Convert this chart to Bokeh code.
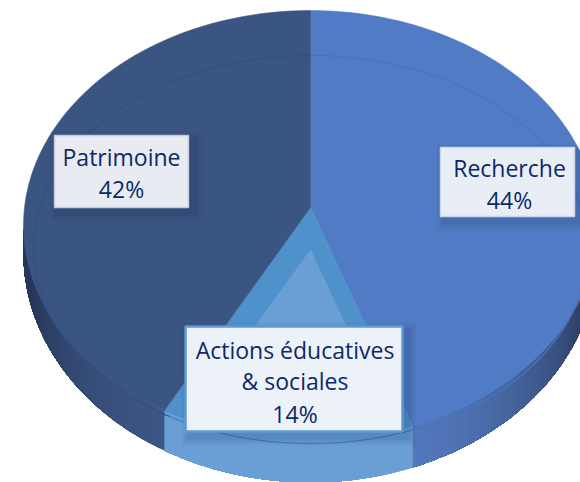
import numpy as np
from bokeh.plotting import figure
from bokeh.embed import file_html
from bokeh.resources import INLINE
from bokeh.core.properties import value

# --- data ---
categories = ["Recherche", "Actions éducatives\n& sociales", "Patrimoine"]
shares = [44.2, 14.3, 41.5]
share_labels = ["44%", "14%", "42%"]

# --- style / layout ---
top_colors = ["#517cc5", "#4f91cb", "#3b5582"]
ring_colors = ["#4a74bc", "#3f82bf", "#34507f"]
side_near = {0: "#5277bc", 2: "#3c5685"}
side_far = {0: "#2b3e60", 2: "#273858"}
highlight = "#6a9fd6"
TXT = "#0b2a66"
FONT = "Open Sans"
FS = "23px"
CX = 310
TOP = dict(cy=225, a=287, b=215)      # outer edge of the top face
BOT = dict(cy=253, a=287, b=229)      # lower silhouette
RING = dict(cy=249, a=277, b=194)     # inner bevel line
APEX_Y = 207
boxes = [  # left, right, top, bottom, fill, border, border width, text line centres, text x shift
    (440, 574, 147, 216, "#e9eef6", "#c9d6ec", 1.5, [167, 199], 2),
    (185, 402, 326, 431, "#edf2f9", "#5b9bd5", 2.5, [349, 380, 413], 1),
    (54, 188, 135, 207, "#e8ebf2", "#c5cddd", 1.5, [156, 188], 0),
]


def pt(e, deg):
    t = np.radians(deg)
    return CX + e["a"] * np.sin(t), e["cy"] - e["b"] * np.cos(t)


def hex2rgb(h):
    return np.array([int(h[i:i + 2], 16) for i in (1, 3, 5)], dtype=float)


def mix(a, b, f):
    c = hex2rgb(a) * (1 - f) + hex2rgb(b) * f
    return "#%02x%02x%02x" % tuple(int(round(v)) for v in c)


edges = np.concatenate([[0], np.cumsum(shares)]) / sum(shares) * 360

p = figure(width=580, height=482, x_range=(0, 580), y_range=(482, 0),
           output_backend="svg", toolbar_location=None, min_border=0,
           outline_line_color=None, background_fill_color="white", border_fill_color="white")
p.axis.visible = False
p.grid.visible = False

# side wall, shaded in overlapping strips so that no seams show
xs, ys, cols = [], [], []
for i in range(3):
    a0, a1 = edges[i], edges[i + 1]
    lo, hi = max(a0, 90), min(a1, 270)
    steps = 50
    ang = np.linspace(lo, hi, steps + 1)
    for k in range(steps):
        arc = ang[k:]
        tx, ty = pt(TOP, arc)
        bx, by = pt(BOT, arc)
        xs.append(np.r_[tx, bx[::-1]]); ys.append(np.r_[ty, by[::-1]])
        mid = (ang[k] + ang[k + 1]) / 2
        if i == 1:
            cols.append(highlight)
        elif i == 0:
            f = min(1, (a1 - mid) / (a1 - 108))
            cols.append(mix(side_near[0], side_far[0], f ** 1.4))
        else:
            f = min(1, (mid - a0) / (255 - a0))
            cols.append(mix(side_near[2], side_far[2], f ** 1.4))
p.patches(xs, ys, fill_color=cols, line_color=None)

# top face
for i in range(3):
    ang = np.linspace(edges[i], edges[i + 1], 120)
    ex, ey = pt(TOP, ang)
    p.patch(np.r_[CX, ex], np.r_[APEX_Y, ey], fill_color=top_colors[i], line_color=top_colors[i], line_width=0.5)

# lighter inner part of the small slice
ang = np.linspace(edges[1], edges[2], 60)
ex, ey = pt(BOT, ang)
p.patch(np.r_[CX, ex], np.r_[RING["cy"], ey], fill_color=highlight, line_color=None)

# bevel line
for i in range(3):
    ang = np.linspace(edges[i], edges[i + 1], 120)
    ex, ey = pt(RING, ang)
    p.line(ex, ey, line_color=ring_colors[i], line_width=1.3)

# label boxes
lines = []
for cat, lab in zip(categories, share_labels):
    lines.append(cat.split("\n") + [lab])
for (l, r, t, b, fill, border, bw, ctrs, sh), rows in zip(boxes, lines):
    for d, al in ((9, 0.03), (7, 0.04), (5, 0.05), (3, 0.06)):
        p.quad(left=l + 5 - d, right=r + 5 + d, top=t + 5 - d, bottom=b + 5 + d,
               fill_color="#10204a", fill_alpha=al, line_color=None)
    p.quad(left=l, right=r, top=t, bottom=b, fill_color=fill, line_color=border, line_width=bw)
    mx = (l + r) / 2 + sh
    p.text(x=[mx] * len(rows), y=ctrs, text=rows, text_align="center", text_baseline="middle",
           text_color=TXT, text_font=value(FONT), text_font_size=FS)

open("out.html", "w").write(file_html(p, INLINE))
